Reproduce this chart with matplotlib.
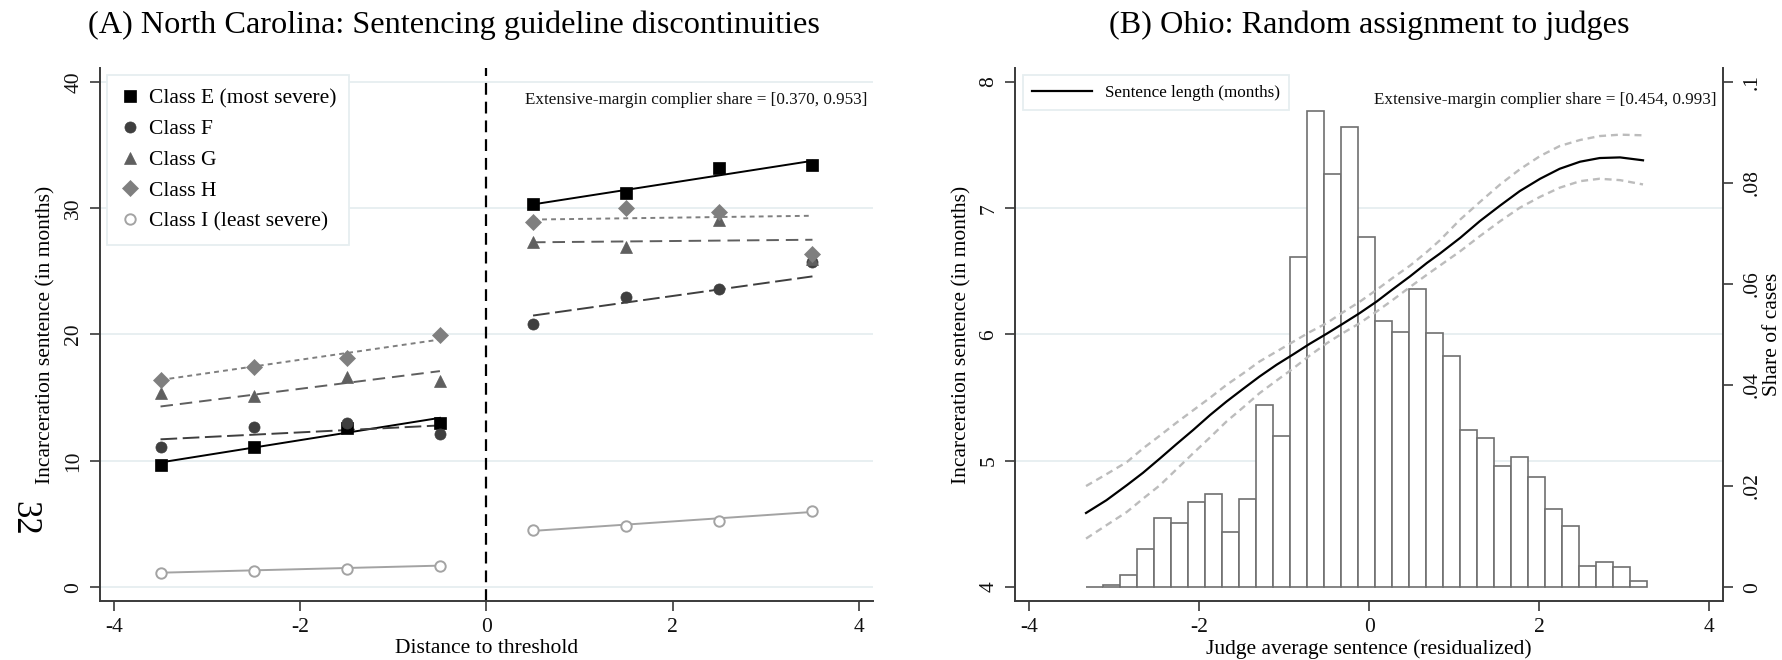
import numpy as np
import matplotlib
matplotlib.use("Agg")
import matplotlib.pyplot as plt
from matplotlib.ticker import FixedLocator

plt.rcParams['font.family'] = ['Liberation Serif', 'DejaVu Serif']
plt.rcParams['lines.scale_dashes'] = False
plt.rcParams['axes.unicode_minus'] = False

# ---- Panel A: North Carolina, mean sentence per distance bin and offense class
dist_below = [-3.5, -2.5, -1.5, -0.5]
dist_above = [0.5, 1.5, 2.5, 3.5]
class_labels = ["Class E (most severe)", "Class F", "Class G", "Class H",
                "Class I (least severe)"]

sent_E = [9.7, 11.1, 12.6, 13.0, 30.3, 31.2, 33.2, 33.4]
sent_F = [11.1, 12.7, 13.0, 12.1, 20.85, 22.95, 23.6, 25.7]
sent_G = [15.4, 15.1, 16.6, 16.35, 27.3, 26.9, 29.1, 26.0]
sent_H = [16.4, 17.4, 18.1, 19.95, 28.9, 30.0, 29.7, 26.35]
sent_I = [1.14, 1.3, 1.45, 1.7, 4.5, 4.84, 5.26, 6.0]

# linear fits either side of the threshold: value at first and last bin
fit_E = [(9.87, 13.4), (30.3, 33.75)]
fit_F = [(11.7, 12.8), (21.5, 24.6)]
fit_G = [(14.3, 17.1), (27.3, 27.5)]
fit_H = [(16.4, 19.6), (29.1, 29.4)]
fit_I = [(1.14, 1.7), (4.45, 5.95)]

note_A = "Extensive-margin complier share = [0.370, 0.953]"

# ---- Panel B: Ohio, local-linear fit of sentence on judge stringency
judge_x = [-3.33, -3.09, -2.85, -2.66, -2.46, -2.27, -2.07, -1.87, -1.68, -1.48,
           -1.29, -1.09, -0.89, -0.70, -0.50, -0.31, -0.11, 0.09, 0.28, 0.48,
           0.68, 0.83, 1.07, 1.30, 1.54, 1.77, 2.01, 2.24, 2.48, 2.71,
           2.95, 3.22]
sent_fit = [4.587, 4.688, 4.807, 4.905, 5.019, 5.13, 5.244, 5.363, 5.468, 5.571,
            5.667, 5.76, 5.844, 5.926, 6.006, 6.085, 6.17, 6.262, 6.36, 6.46,
            6.567, 6.64, 6.765, 6.897, 7.021, 7.135, 7.233, 7.312, 7.368, 7.397,
            7.402, 7.379]
ci_hi = [4.80, 4.894, 4.99, 5.098, 5.20, 5.30, 5.40, 5.50, 5.60, 5.693,
         5.786, 5.865, 5.944, 6.019, 6.09, 6.175, 6.26, 6.355, 6.45, 6.545,
         6.655, 6.745, 6.91, 7.048, 7.188, 7.307, 7.413, 7.492, 7.54, 7.571,
         7.582, 7.577]
ci_lo = [4.384, 4.49, 4.595, 4.70, 4.807, 4.93, 5.06, 5.186, 5.31, 5.424,
         5.535, 5.635, 5.733, 5.833, 5.93, 6.011, 6.09, 6.183, 6.275, 6.376,
         6.474, 6.545, 6.659, 6.778, 6.897, 7.003, 7.09, 7.162, 7.214, 7.233,
         7.222, 7.188]

# histogram of judge stringency (share of cases per 0.2 bin)
hist_start = -3.333
hist_width = 0.2
hist_share = [0.0001, 0.0004, 0.0024, 0.0075, 0.0136, 0.0127, 0.0169, 0.0185,
              0.0110, 0.0175, 0.0360, 0.0299, 0.0654, 0.0943, 0.0818, 0.0910,
              0.0693, 0.0527, 0.0505, 0.0590, 0.0503, 0.0458, 0.0311, 0.0296,
              0.0240, 0.0258, 0.0217, 0.0155, 0.0121, 0.0042, 0.0049, 0.0040,
              0.0012]
share_ticks = [0, 0.02, 0.04, 0.06, 0.08, 0.1]
share_labels = ["0", ".02", ".04", ".06", ".08", ".1"]

note_B = "Extensive-margin complier share = [0.454, 0.993]"

SPINE = "#3a3a3a"
GRID = "#e6eef0"
FS = 15.5


def style_axis(ax):
    for side in ("top", "right"):
        ax.spines[side].set_visible(False)
    for side in ("left", "bottom"):
        ax.spines[side].set_color(SPINE)
        ax.spines[side].set_linewidth(1.4)
    ax.tick_params(axis="both", colors=SPINE, labelcolor="#111111", width=1.2,
                   length=7, labelsize=FS, pad=5)
    ax.tick_params(axis="y", labelrotation=90)
    for lab in ax.get_yticklabels():
        lab.set_va("center")
    ax.grid(axis="y", color=GRID, lw=1.3)
    ax.set_axisbelow(True)


fig = plt.figure(figsize=(17.82, 6.6), dpi=100)
axA = fig.add_axes([0.0561, 0.0894, 0.4338, 0.8076])
axB = fig.add_axes([0.5696, 0.0894, 0.3975, 0.8076])

# ---------------- Panel A
series = [sent_E, sent_F, sent_G, sent_H, sent_I]
fits = [fit_E, fit_F, fit_G, fit_H, fit_I]
colors = ["#000000", "#3f3f3f", "#5f5f5f", "#7f7f7f", "#a3a3a3"]
markers = ["s", "o", "^", "D", "o"]
msizes = [8.5, 8.0, 9.0, 8.0, 7.5]
dash_styles = [None, (12, 4), (9, 5), (3.5, 3), None]

xs = dist_below + dist_above
for vals, fit, col, mk, ms, dsh, lab in zip(series, fits, colors, markers,
                                             msizes, dash_styles, class_labels):
    hollow = lab.startswith("Class I")
    axA.plot(xs, vals, ls="none", marker=mk, ms=ms, color=col,
             mfc="white" if hollow else col, mec=col,
             mew=1.4 if hollow else 0.5, label=lab, zorder=3)
    for side_x, side_fit in ((dist_below, fit[0]), (dist_above, fit[1])):
        line, = axA.plot([side_x[0], side_x[-1]], side_fit, color=col, lw=1.4,
                         zorder=2)
        if dsh is not None:
            line.set_dashes(dsh)

axA.axvline(0, color="black", lw=1.6, dashes=(8.5, 5), zorder=2)

axA.set_xlim(-4.15, 4.15)
axA.set_ylim(-1.1, 41.1)
axA.set_xticks([-4, -2, 0, 2, 4])
axA.set_yticks([0, 10, 20, 30, 40])
style_axis(axA)
axA.set_xlabel("Distance to threshold", fontsize=FS, labelpad=2)
axA.set_ylabel("Incarceration sentence (in months)", fontsize=FS, labelpad=6)

legA = axA.legend(loc="upper left", bbox_to_anchor=(0.009, 0.986),
                  borderaxespad=0, fontsize=FS, handlelength=0.9,
                  handletextpad=0.45, labelspacing=0.5, borderpad=0.6,
                  fancybox=False, framealpha=1, numpoints=1)
legA.get_frame().set_edgecolor(GRID)
legA.get_frame().set_linewidth(1.3)

axA.text(0.993, 0.94, note_A, transform=axA.transAxes, ha="right", va="center",
         fontsize=12.3, color="#111111")

# ---------------- Panel B
axB2 = axB.twinx()
axB.set_zorder(axB2.get_zorder() + 1)
axB.patch.set_visible(False)

edges = hist_start + hist_width * np.arange(len(hist_share))
axB2.bar(edges, hist_share, width=hist_width, align="edge", facecolor="white",
         edgecolor="#6f6f6f", lw=1.2, zorder=2)

axB.plot(judge_x, ci_hi, color="#bcbcbc", lw=1.7, dashes=(5, 3.5), zorder=3)
axB.plot(judge_x, ci_lo, color="#bcbcbc", lw=1.7, dashes=(5, 3.5), zorder=3)
axB.plot(judge_x, sent_fit, color="black", lw=1.6, zorder=4,
         label="Sentence length (months)")

axB.set_xlim(-4.165, 4.165)
axB.set_ylim(3.89, 8.11)
axB.set_xticks([-4, -2, 0, 2, 4])
axB.set_yticks([4, 5, 6, 7, 8])
style_axis(axB)
axB.grid(False)
axB.set_xlabel("Judge average sentence (residualized)", fontsize=FS, labelpad=2)
axB.set_ylabel("Incarceration sentence (in months)", fontsize=FS, labelpad=6)

# right-hand axis shares the same vertical mapping as the left one
lo, hi = axB.get_ylim()
axB2.set_ylim((lo - 4) / 40, (hi - 4) / 40)
axB2.set_yticks(share_ticks)
axB2.set_yticklabels(share_labels)
for side in ("top", "left", "bottom"):
    axB2.spines[side].set_visible(False)
axB2.spines["right"].set_color(SPINE)
axB2.spines["right"].set_linewidth(1.4)
axB2.tick_params(axis="y", colors=SPINE, labelcolor="#111111", width=1.2,
                 length=7, labelsize=FS, pad=7, labelrotation=90)
for lab in axB2.get_yticklabels():
    lab.set_va("center")
axB2.set_ylabel("Share of cases", fontsize=FS, labelpad=1)

# horizontal grid at the left-axis ticks, drawn under the bars
grid_pos = [axB2.transData.inverted().transform(axB.transData.transform((0, t)))[1]
            for t in axB.get_yticks()]
axB2.yaxis.set_minor_locator(FixedLocator(grid_pos))
axB2.tick_params(axis="y", which="minor", length=0)
axB2.grid(axis="y", which="minor", color=GRID, lw=1.3, zorder=0)
axB2.set_axisbelow(True)

legB = axB.legend(loc="upper left", bbox_to_anchor=(0.011, 0.986),
                  borderaxespad=0, fontsize=12.3, handlelength=3.5,
                  handletextpad=0.75, borderpad=0.55, fancybox=False,
                  framealpha=1)
legB.get_frame().set_edgecolor(GRID)
legB.get_frame().set_linewidth(1.3)

axB.text(0.991, 0.94, note_B, transform=axB.transAxes, ha="right", va="center",
         fontsize=12.3, color="#111111")

# panel titles and page number
fig.text(0.2545, 0.962, "(A) North Carolina: Sentencing guideline discontinuities",
         ha="center", va="center", fontsize=23.2)
fig.text(0.7683, 0.962, "(B) Ohio: Random assignment to judges",
         ha="center", va="center", fontsize=23.2)
fig.text(0.0135, 0.214, "32", rotation=270, ha="center", va="center", fontsize=25)

fig.savefig("out.png", dpi=100)
